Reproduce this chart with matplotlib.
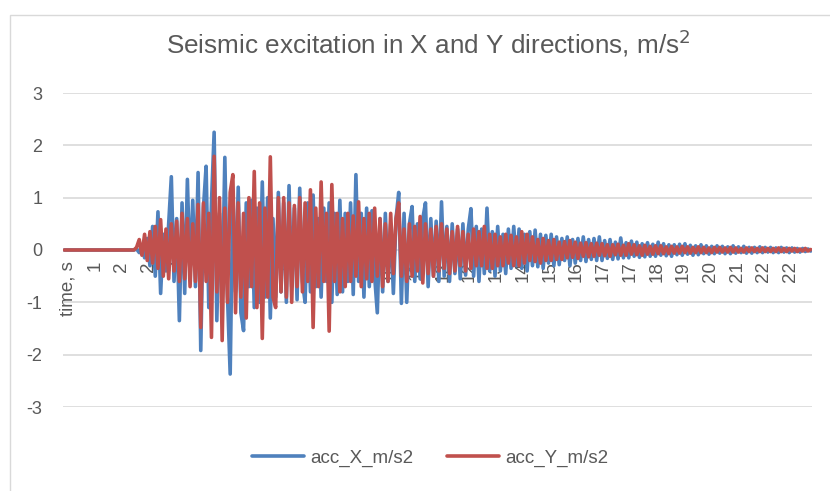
import matplotlib
matplotlib.use('Agg')
import matplotlib.pyplot as plt
from matplotlib.patches import Rectangle

# acceleration samples, 10 per label interval
acc_x = [
    0.0, 0.0, 0.0, 0.0, 0.0, 0.0, 0.0, 0.0, 0.0, 0.0,
    0.0, 0.0, 0.0, 0.0, 0.0, 0.0, 0.0, 0.0, 0.0, 0.0,
    0.0, 0.0, 0.0, 0.0, 0.0, 0.0, 0.0, 0.02, -0.05, 0.1,
    -0.15, 0.22, -0.3, 0.45, -0.5, 0.73, -0.83, 0.3, -0.4, 0.5,
    1.4, -0.6, 0.6, -1.35, 0.9, -0.83, 1.35, -0.5, 0.95, -0.7,
    1.48, -1.92, 0.8, 1.6, -1.1, 0.9, 2.25, -1.35, 0.7, -1.0,
    1.77, -0.9, -2.37, 1.1, -0.8, 1.2, -1.2, -1.54, 0.9, -0.7,
    0.95, -1.1, 0.8, -1.0, 1.3, -0.9, 1.0, -1.3, 0.6, -0.9,
    1.1, -0.8, 0.9, -1.0, 1.23, -0.7, 0.8, -0.95, 1.18, -0.6,
    -1.0, 0.9, -0.8, 1.05, -0.7, 0.6, -0.9, 0.8, -0.6, 0.9,
    -1.0, 0.7, -0.85, 0.95, -0.8, 0.7, -0.6, 0.9, -0.85, 1.44,
    -0.6, 0.7, -0.9, 0.8, -0.7, 0.75, -0.5, -1.2, 0.6, -0.8,
    0.7, -0.6, 0.5, -0.83, 0.6, 1.1, -1.02, 0.7, -1.0, 0.5,
    0.83, -0.6, 0.5, -0.55, 0.6, 0.9, -0.7, 0.6, -0.5, 0.55,
    -0.6, 0.92, -0.5, 0.45, -0.6, 0.5, -0.45, 0.4, -0.55, 0.5,
    -0.48, 0.4, 0.79, -0.5, 0.45, -0.6, 0.4, -0.45, 0.8, -0.4,
    0.35, -0.5, 0.45, -0.4, 0.3, -0.45, 0.4, -0.35, 0.45, -0.3,
    0.4, -0.35, 0.3, -0.4, 0.35, -0.3, 0.38, -0.32, 0.3, -0.35,
    0.28, -0.25, 0.3, -0.3, 0.25, -0.28, 0.22, -0.2, 0.25, -0.3,
    0.2, -0.25, 0.22, -0.2, 0.25, -0.22, 0.2, -0.18, 0.22, -0.2,
    0.25, -0.2, 0.18, -0.16, 0.2, -0.18, 0.15, -0.17, 0.23, -0.15,
    0.14, -0.15, 0.17, -0.12, 0.15, -0.14, 0.12, -0.13, 0.14, -0.12,
    0.11, -0.12, 0.15, -0.1, 0.12, -0.11, 0.1, -0.12, 0.1, -0.09,
    0.11, -0.1, 0.12, -0.08, 0.09, -0.1, 0.08, -0.09, 0.1, -0.07,
    0.08, -0.08, 0.07, -0.07, 0.08, -0.06, 0.07, -0.07, 0.06, -0.07,
    0.08, -0.06, 0.06, -0.05, 0.07, -0.06, 0.05, -0.06, 0.05, -0.05,
    0.06, -0.05, 0.05, -0.04, 0.05, -0.05, 0.04, -0.05, 0.05, -0.04,
    0.04, -0.05, 0.04, -0.04, 0.03, -0.04, 0.03, -0.03, 0.02, -0.02,
]

acc_y = [
    0.0, 0.0, 0.0, 0.0, 0.0, 0.0, 0.0, 0.0, 0.0, 0.0,
    0.0, 0.0, 0.0, 0.0, 0.0, 0.0, 0.0, 0.0, 0.0, 0.0,
    0.0, 0.0, 0.0, 0.0, 0.0, 0.0, 0.0, 0.05, 0.2, -0.1,
    0.3, -0.2, 0.35, -0.25, 0.45, -0.35, 0.58, -0.5, 0.4, -0.55,
    0.5, -0.4, 0.55, -0.6, 0.7, -0.55, 0.6, -0.7, 0.5, -0.6,
    0.87, -1.48, 0.9, -0.6, 0.7, -1.67, 1.79, -0.8, 1.0, -1.73,
    0.8, -1.0, 1.1, 1.44, -1.2, 0.9, -0.9, 0.7, -1.3, 1.0,
    -0.7, 1.5, -1.1, 0.9, -1.69, 0.8, -0.9, 1.78, -0.9, -1.1,
    1.0, -0.8, 1.0, -0.9, 0.9, -1.0, 0.85, -0.7, 1.0, -0.8,
    0.9, -0.6, 1.15, -1.48, 0.8, -0.7, 1.3, -0.6, 0.7, -1.55,
    1.25, -0.6, 0.7, -0.8, 0.6, -0.7, 0.7, -0.6, 0.65, -0.5,
    0.92, -0.7, 0.6, -0.55, 0.7, -0.6, 0.8, -0.5, 0.6, -0.7,
    0.5, -0.6, 0.7, -0.45, 0.6, 0.9, -0.5, 0.4, -0.6, 0.5,
    -0.5, 0.45, -0.4, 0.64, -0.63, 0.5, -0.45, 0.4, -0.5, 0.45,
    -0.4, 0.5, -0.35, 0.4, -0.45, 0.35, -0.4, 0.45, -0.3, 0.35,
    -0.4, 0.3, -0.35, 0.4, -0.3, 0.35, -0.3, 0.45, -0.35, 0.3,
    -0.35, 0.3, -0.3, 0.25, -0.3, 0.3, -0.25, 0.28, -0.3, 0.25,
    -0.3, 0.35, -0.25, 0.3, -0.2, 0.25, -0.22, 0.2, -0.25, 0.22,
    -0.2, 0.18, -0.2, 0.2, -0.18, 0.15, -0.18, 0.16, -0.15, 0.18,
    -0.14, 0.15, -0.16, 0.13, -0.12, 0.14, -0.13, 0.12, -0.12, 0.13,
    -0.1, 0.12, -0.11, 0.1, -0.12, 0.1, -0.09, 0.11, -0.1, 0.09,
    -0.1, 0.12, -0.08, 0.1, -0.09, 0.08, -0.1, 0.09, -0.08, 0.07,
    -0.08, 0.08, -0.07, 0.08, -0.07, 0.06, -0.07, 0.07, -0.06, 0.06,
    -0.06, 0.07, -0.05, 0.06, -0.06, 0.05, -0.05, 0.06, -0.05, 0.05,
    -0.05, 0.04, -0.05, 0.05, -0.04, 0.05, -0.04, 0.04, -0.04, 0.05,
    -0.04, 0.04, -0.04, 0.03, -0.04, 0.04, -0.03, 0.04, -0.03, 0.03,
    -0.03, 0.04, -0.03, 0.03, -0.03, 0.03, -0.03, 0.04, -0.03, 0.03,
    -0.03, 0.03, -0.02, 0.03, -0.03, 0.02, -0.02, 0.03, -0.02, 0.01,
]

time_labels = ['time, s', '1', '2', '2', '3', '4', '5', '6', '7', '7',
               '8', '9', '10', '11', '12', '12', '13', '14', '15', '16',
               '17', '17', '18', '19', '20', '21', '22', '22']
label_step = 10

plt.rcParams['font.family'] = ['Liberation Sans', 'DejaVu Sans']
plt.rcParams['axes.unicode_minus'] = False
text_color = '#595959'

fig = plt.figure(figsize=(8.3, 4.91), dpi=100)
ax = fig.add_axes([63 / 830, 1 - 407 / 491, 749 / 830, 314 / 491])

idx = list(range(len(acc_x)))
ax.plot(idx, acc_x, color='#4F81BD', linewidth=2.6, label='acc_X_m/s2',
        zorder=3, solid_joinstyle='round', solid_capstyle='round')
ax.plot(idx, acc_y, color='#C0504D', linewidth=2.6, label='acc_Y_m/s2',
        zorder=4, solid_joinstyle='round', solid_capstyle='round')

ax.set_xlim(-0.5, len(acc_x) - 0.5)
ax.set_ylim(-3, 3)
ax.set_yticks([-3, -2, -1, 0, 1, 2, 3])
ax.grid(axis='y', color='#D9D9D9', linewidth=1.2, zorder=0)
ax.set_axisbelow(True)

ax.spines['bottom'].set_position(('data', 0))
for s in ax.spines.values():
    s.set_visible(False)
# labels sit a little right of their sample, as the category axis does
ax.set_xticks([i * label_step + 1.5 for i in range(len(time_labels))])
ax.set_xticklabels(time_labels)
ax.tick_params(axis='x', length=0, pad=8, labelsize=13.5, labelcolor=text_color,
               labelrotation=90)
ax.tick_params(axis='y', length=0, pad=15, labelsize=13, labelcolor=text_color)

fig.text(428 / 830, 1 - 43 / 491, 'Seismic excitation in X and Y directions, m/s$^2$',
         ha='center', va='center', fontsize=18.8, color=text_color)

ax.legend(loc='center', bbox_to_anchor=(430 / 830, 1 - 458 / 491),
          bbox_transform=fig.transFigure, ncol=2, frameon=False,
          fontsize=13.5, labelcolor=text_color, handlelength=2.8,
          columnspacing=1.8, handletextpad=0.3)

fig.patches.append(Rectangle((10 / 830, -0.1), 1.2, 1.1 - 15 / 491,
                             transform=fig.transFigure, fill=False,
                             edgecolor='#D9D9D9', linewidth=1))

plt.savefig('out.png', dpi=100)
